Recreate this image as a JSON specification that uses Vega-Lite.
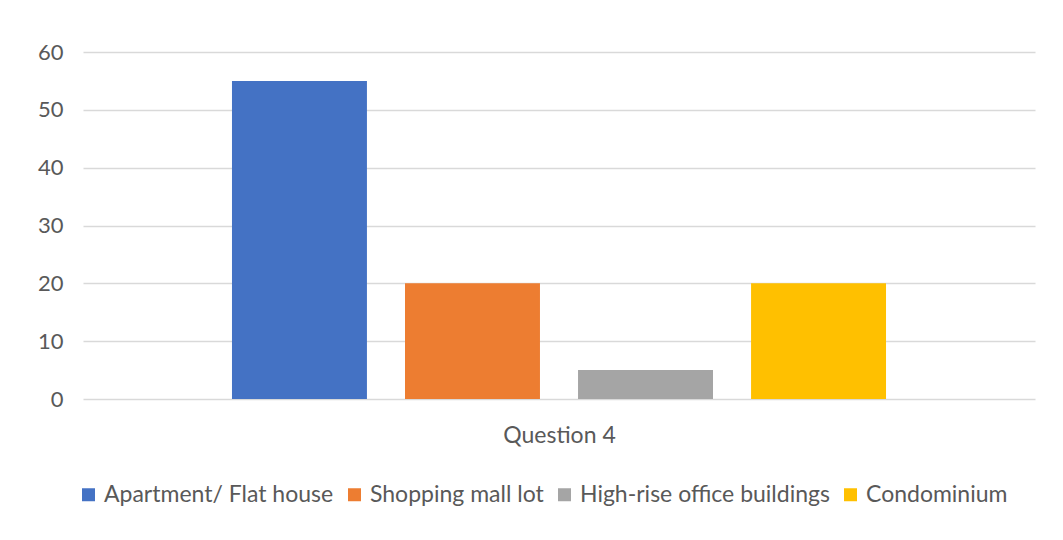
{
  "$schema": "https://vega.github.io/schema/vega-lite/v6.json",
  "autosize": {"type": "none"},
  "width": 952,
  "height": 347,
  "padding": {"left": 83, "top": 52, "right": 28, "bottom": 141},
  "background": "white",
  "config": {
    "view": {"stroke": null},
    "font": "Lato"
  },
  "data": {
    "values": [
      {"question": "Question 4", "category": "Apartment/ Flat house", "value": 55},
      {"question": "Question 4", "category": "Shopping mall lot", "value": 20},
      {"question": "Question 4", "category": "High-rise office buildings", "value": 5},
      {"question": "Question 4", "category": "Condominium", "value": 20}
    ]
  },
  "mark": {"type": "bar"},
  "encoding": {
    "x": {
      "field": "category",
      "type": "nominal",
      "sort": null,
      "scale": {"paddingInner": 0.22, "paddingOuter": 0.861},
      "axis": {
        "labels": false,
        "ticks": false,
        "domain": false,
        "title": "Question 4",
        "titleFont": "Lato",
        "titleFontSize": 23,
        "titleFontWeight": "normal",
        "titleColor": "#595959",
        "titlePadding": 25
      }
    },
    "y": {
      "field": "value",
      "type": "quantitative",
      "scale": {"domain": [0, 60]},
      "axis": {
        "values": [0, 10, 20, 30, 40, 50, 60],
        "title": null,
        "domain": false,
        "ticks": false,
        "labelPadding": 20,
        "labelFontSize": 22,
        "labelColor": "#595959",
        "gridColor": "#D9D9D9",
        "gridWidth": 1.5
      }
    },
    "color": {
      "field": "category",
      "type": "nominal",
      "scale": {
        "domain": ["Apartment/ Flat house", "Shopping mall lot", "High-rise office buildings", "Condominium"],
        "range": ["#4472C4", "#ED7D31", "#A5A5A5", "#FFC000"]
      },
      "legend": {
        "title": null,
        "orient": "none",
        "legendX": -6,
        "legendY": 431,
        "padding": 0,
        "direction": "horizontal",
        "symbolType": "square",
        "symbolSize": 169,
        "symbolStrokeWidth": 0,
        "labelFontSize": 23,
        "labelLimit": 0,
        "labelColor": "#595959",
        "labelOffset": 4,
        "columnPadding": 9
      }
    }
  }
}
